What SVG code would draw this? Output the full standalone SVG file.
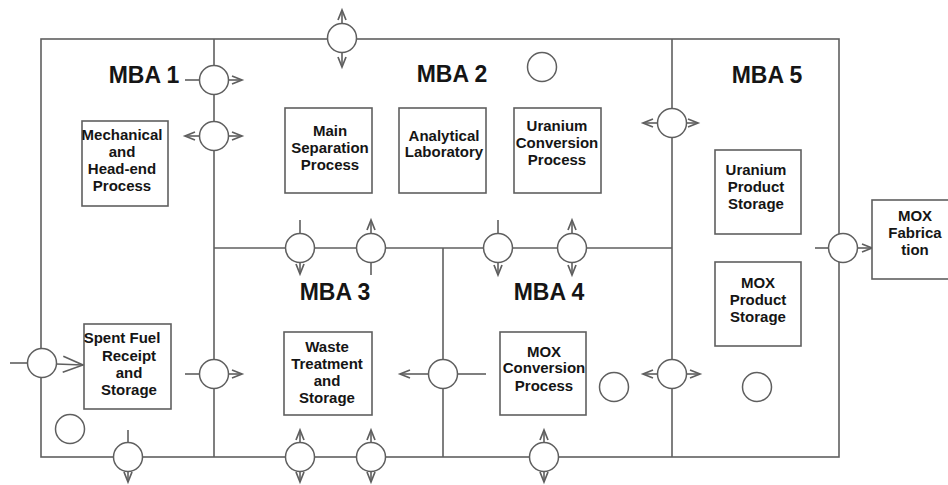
<svg xmlns="http://www.w3.org/2000/svg" width="948" height="485" viewBox="0 0 948 485">
<style>
.ln{stroke:#5f5f5f;stroke-width:1.6;fill:none}
.bx{stroke:#5f5f5f;stroke-width:1.6;fill:#fff}
.kmp{stroke:#5f5f5f;stroke-width:1.5;fill:#fff}
.arr{stroke:#5f5f5f;stroke-width:1.6;fill:none;marker-end:url(#ah)}
.arrb{stroke:#5f5f5f;stroke-width:1.6;fill:none;marker-end:url(#ahb)}
.t{font-family:"Liberation Sans",Arial,sans-serif;font-weight:bold;font-size:15px;fill:#151515;text-anchor:middle}
.mba{font-family:"Liberation Sans",Arial,sans-serif;font-weight:bold;font-size:23px;fill:#151515;text-anchor:middle}
</style>
<defs>
<marker id="ah" markerUnits="userSpaceOnUse" markerWidth="12" markerHeight="10" refX="10" refY="4" orient="auto" overflow="visible">
<path d="M0,0 L10,4 L0,8" fill="none" stroke="#5f5f5f" stroke-width="1.7"/>
</marker>
<marker id="ahb" markerUnits="userSpaceOnUse" markerWidth="22" markerHeight="18" refX="20" refY="8" orient="auto" overflow="visible">
<path d="M0,0 L20,8 L0,16" fill="none" stroke="#5f5f5f" stroke-width="1.6"/>
</marker>
</defs>
<rect width="948" height="485" fill="#fff"/>

<g id="boundaries">
<rect class="ln" x="41" y="39" width="798" height="418"/>
<line class="ln" x1="214" y1="39" x2="214" y2="457"/>
<line class="ln" x1="672" y1="39" x2="672" y2="457"/>
<line class="ln" x1="214" y1="248" x2="672" y2="248"/>
<line class="ln" x1="443" y1="248" x2="443" y2="457"/>
</g>

<g id="labels">
<text class="mba" x="144" y="83">MBA 1</text>
<text class="mba" x="452" y="82">MBA 2</text>
<text class="mba" x="335" y="300">MBA 3</text>
<text class="mba" x="549" y="300">MBA 4</text>
<text class="mba" x="767" y="83">MBA 5</text>
</g>

<g id="connectors">
<line class="ln" x1="185" y1="80" x2="200" y2="80"/><line class="arr" x1="228" y1="80" x2="242" y2="80"/>
<line class="arr" x1="200" y1="136" x2="185" y2="136"/><line class="arr" x1="228" y1="136" x2="242" y2="136"/>
<line class="arr" x1="342" y1="24" x2="342" y2="10"/><line class="arr" x1="342" y1="52" x2="342" y2="67"/>
<line class="arr" x1="658" y1="123" x2="643" y2="123"/><line class="arr" x1="686" y1="123" x2="698" y2="123"/>
<line class="ln" x1="300" y1="220" x2="300" y2="234"/><line class="arr" x1="300" y1="262" x2="300" y2="274"/>
<line class="arr" x1="371" y1="234" x2="371" y2="220"/><line class="ln" x1="371" y1="262" x2="371" y2="275"/>
<line class="ln" x1="498" y1="220" x2="498" y2="234"/><line class="arr" x1="498" y1="262" x2="498" y2="275"/>
<line class="arr" x1="572" y1="234" x2="572" y2="220"/><line class="arr" x1="572" y1="262" x2="572" y2="275"/>
<line class="ln" x1="185" y1="374" x2="200" y2="374"/><line class="arr" x1="228" y1="374" x2="242" y2="374"/>
<line class="ln" x1="10" y1="363" x2="28" y2="363"/><line class="arrb" x1="56" y1="364" x2="83" y2="365"/>
<line class="ln" x1="128" y1="430" x2="128" y2="443"/><line class="arr" x1="128" y1="471" x2="128" y2="482"/>
<line class="arr" x1="300" y1="443" x2="300" y2="430"/><line class="arr" x1="300" y1="471" x2="300" y2="482"/>
<line class="arr" x1="371" y1="443" x2="371" y2="430"/><line class="arr" x1="371" y1="471" x2="371" y2="482"/>
<line class="arr" x1="429" y1="374" x2="400" y2="374"/><line class="ln" x1="457" y1="374" x2="486" y2="374"/>
<line class="arr" x1="544" y1="443" x2="544" y2="430"/><line class="arr" x1="544" y1="471" x2="544" y2="482"/>
<line class="arr" x1="658" y1="374" x2="643" y2="374"/><line class="arr" x1="686" y1="374" x2="700" y2="374"/>
<line class="ln" x1="815" y1="248" x2="829" y2="248"/><line class="arr" x1="857" y1="248" x2="872" y2="248"/>
</g>

<g id="measurement-points">
<circle class="kmp" cx="214" cy="80" r="14.5"/>
<circle class="kmp" cx="214" cy="136" r="14.5"/>
<circle class="kmp" cx="342" cy="38" r="14.5"/>
<circle class="kmp" cx="542" cy="67" r="14.5"/>
<circle class="kmp" cx="672" cy="123" r="14.5"/>
<circle class="kmp" cx="300" cy="248" r="14.5"/>
<circle class="kmp" cx="371" cy="248" r="14.5"/>
<circle class="kmp" cx="498" cy="248" r="14.5"/>
<circle class="kmp" cx="572" cy="248" r="14.5"/>
<circle class="kmp" cx="214" cy="374" r="14.5"/>
<circle class="kmp" cx="42" cy="363" r="14.5"/>
<circle class="kmp" cx="70" cy="429" r="14.5"/>
<circle class="kmp" cx="128" cy="457" r="14.5"/>
<circle class="kmp" cx="300" cy="457" r="14.5"/>
<circle class="kmp" cx="371" cy="457" r="14.5"/>
<circle class="kmp" cx="443" cy="374" r="14.5"/>
<circle class="kmp" cx="544" cy="457" r="14.5"/>
<circle class="kmp" cx="614" cy="387" r="14.5"/>
<circle class="kmp" cx="672" cy="374" r="14.5"/>
<circle class="kmp" cx="757" cy="387" r="14.5"/>
<circle class="kmp" cx="843" cy="248" r="14.5"/>
</g>

<g id="mechanical">
<rect class="bx" x="82" y="121" width="86" height="85"/>
<text class="t" x="122" y="140">Mechanical</text>
<text class="t" x="122" y="157">and</text>
<text class="t" x="122" y="174">Head-end</text>
<text class="t" x="122" y="191">Process</text>
</g>
<g id="main-separation">
<rect class="bx" x="285" y="108" width="87" height="85"/>
<text class="t" x="330" y="136">Main</text>
<text class="t" x="330" y="153">Separation</text>
<text class="t" x="330" y="170">Process</text>
</g>
<g id="analytical">
<rect class="bx" x="399" y="108" width="87" height="85"/>
<text class="t" x="444" y="141">Analytical</text>
<text class="t" x="444" y="157">Laboratory</text>
</g>
<g id="uranium-conversion">
<rect class="bx" x="514" y="108" width="87" height="85"/>
<text class="t" x="557" y="131">Uranium</text>
<text class="t" x="557" y="148">Conversion</text>
<text class="t" x="557" y="165">Process</text>
</g>
<g id="uranium-product">
<rect class="bx" x="715" y="150" width="86" height="84"/>
<text class="t" x="756" y="175">Uranium</text>
<text class="t" x="756" y="192">Product</text>
<text class="t" x="756" y="209">Storage</text>
</g>
<g id="mox-product">
<rect class="bx" x="715" y="262" width="86" height="84"/>
<text class="t" x="758" y="288">MOX</text>
<text class="t" x="758" y="305">Product</text>
<text class="t" x="758" y="322">Storage</text>
</g>
<g id="mox-fabrication">
<rect class="bx" x="872" y="200" width="90" height="79"/>
<text class="t" x="915" y="221">MOX</text>
<text class="t" x="915" y="238">Fabrica</text>
<text class="t" x="915" y="255">tion</text>
</g>
<g id="spent-fuel">
<rect class="bx" x="84" y="324" width="87" height="85"/>
<text class="t" x="122" y="343">Spent Fuel</text>
<text class="t" x="129" y="361">Receipt</text>
<text class="t" x="129" y="378">and</text>
<text class="t" x="129" y="395">Storage</text>
</g>
<g id="waste">
<rect class="bx" x="284" y="332" width="88" height="83"/>
<text class="t" x="327" y="352">Waste</text>
<text class="t" x="327" y="369">Treatment</text>
<text class="t" x="327" y="386">and</text>
<text class="t" x="327" y="403">Storage</text>
</g>
<g id="mox-conversion">
<rect class="bx" x="500" y="332" width="86" height="83"/>
<text class="t" x="544" y="357">MOX</text>
<text class="t" x="544" y="373">Conversion</text>
<text class="t" x="544" y="391">Process</text>
</g>
</svg>
